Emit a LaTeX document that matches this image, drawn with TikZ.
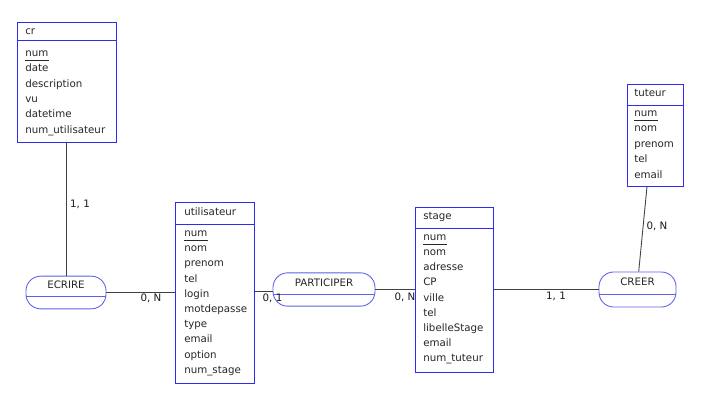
\documentclass[tikz,border=0pt]{standalone}
\usepackage{fontspec}
\setmainfont{DejaVu Sans}
\begin{document}
\begin{tikzpicture}[x=0.75pt,y=-0.75pt,
  font=\fontsize{7.7pt}{9pt}\selectfont,
  entity/.style={draw=entblue, line width=0.65pt, inner sep=0pt},
  entline/.style={draw=entblue, line width=0.65pt},
  relation/.style={draw=relblue, line width=0.65pt, rounded corners=11pt, inner sep=0pt},
  relline/.style={draw=relblue, line width=0.65pt},
  attr/.style={anchor=base west, inner sep=0pt, text=black!85},
  reltext/.style={anchor=base, inner sep=0pt, text=black!85},
  card/.style={anchor=base, inner sep=0pt, text=black!90},
  link/.style={draw=black!75, line width=0.65pt},
  keyline/.style={draw=black!85, line width=0.6pt}]
\definecolor{entblue}{RGB}{45,45,235}
\definecolor{relblue}{RGB}{95,95,235}
\useasboundingbox (0,0) rectangle (713,408);
\fill[white] (0,0) rectangle (713,408);

% ---------- entity cr ----------
\node[entity, minimum width=74.25pt, minimum height=90pt] (cr) at (66.5,82) {};
\draw[entline] (cr.west |- 0,40) -- (cr.east |- 0,40);
\node[attr] (cr-h) at (25,34.5) {cr};
\foreach \t [count=\i] in {num,date,description,vu,datetime,num\_utilisateur}
  \node[attr] (cr-\i) at (25,{56.5+(\i-1)*15.3}) {\t};
\draw[keyline] ([yshift=-2.6pt]cr-1.base west) -- ([yshift=-2.6pt]cr-1.base east);

% ---------- entity utilisateur ----------
\node[entity, minimum width=59.25pt, minimum height=135.75pt] (util) at (215,292.5) {};
\draw[entline] (util.west |- 0,224) -- (util.east |- 0,224);
\node[attr] (util-h) at (184,215) {utilisateur};
\foreach \t [count=\i] in {num,nom,prenom,tel,login,motdepasse,type,email,option,num\_stage}
  \node[attr] (util-\i) at (184,{236.5+(\i-1)*15.2}) {\t};
\draw[keyline] ([yshift=-2.6pt]util-1.base west) -- ([yshift=-2.6pt]util-1.base east);

% ---------- entity stage ----------
\node[entity, minimum width=58.5pt, minimum height=123.75pt] (stage) at (454,289.5) {};
\draw[entline] (stage.west |- 0,228) -- (stage.east |- 0,228);
\node[attr] (stage-h) at (423,219.5) {stage};
\foreach \t [count=\i] in {num,nom,adresse,CP,ville,tel,libelleStage,email,num\_tuteur}
  \node[attr] (stage-\i) at (423,{240.5+(\i-1)*15.15}) {\t};
\draw[keyline] ([yshift=-2.6pt]stage-1.base west) -- ([yshift=-2.6pt]stage-1.base east);

% ---------- entity tuteur ----------
\node[entity, minimum width=42pt, minimum height=76.5pt] (tuteur) at (655,135) {};
\draw[entline] (tuteur.west |- 0,105) -- (tuteur.east |- 0,105);
\node[attr] (tuteur-h) at (634,96.5) {tuteur};
\foreach \t [count=\i] in {num,nom,prenom,tel,email}
  \node[attr] (tuteur-\i) at (634,{116.5+(\i-1)*15.4}) {\t};
\draw[keyline] ([yshift=-2.6pt]tuteur-1.base west) -- ([yshift=-2.6pt]tuteur-1.base east);

% ---------- relationships ----------
\node[relation, minimum width=60pt, minimum height=24.5pt] (ecrire) at (66,292.5) {};
\draw[relline] (ecrire.west |- 0,296.5) -- (ecrire.east |- 0,296.5);
\node[reltext] (ecrire-t) at (66,288) {ECRIRE};

\node[relation, minimum width=76.5pt, minimum height=25pt] (part) at (324,289.5) {};
\draw[relline] (part.west |- 0,294) -- (part.east |- 0,294);
\node[reltext] (part-t) at (324,286) {PARTICIPER};

\node[relation, minimum width=57.75pt, minimum height=26.25pt] (creer) at (637.5,289.5) {};
\draw[relline] (creer.west |- 0,294) -- (creer.east |- 0,294);
\node[reltext] (creer-t) at (637.5,285) {CREER};

% ---------- connectors ----------
\draw[link] (cr.south) -- (cr.south |- ecrire.north);
\draw[link] (ecrire.east) -- (ecrire.east -| util.west);
\draw[link] ([yshift=-1.1pt]util.east |- part.west) -- ([yshift=-1.1pt]part.west);
\draw[link] (part.east) -- (part.east -| stage.west);
\draw[link] (stage.east |- creer.west) -- (creer.west);
\draw[link] ([xshift=-6pt]tuteur.south) -- ([xshift=0.9pt]creer.north);

% ---------- cardinalities ----------
\node[card] (c1) at (80,207.5) {1, 1};
\node[card] (c2) at (151,301.5) {0, N};
\node[card] (c3) at (272.5,301.5) {0, 1};
\node[card] (c4) at (405,300.5) {0, N};
\node[card] (c5) at (556,299.5) {1, 1};
\node[card] (c6) at (657,229.5) {0, N};
\end{tikzpicture}
\end{document}
